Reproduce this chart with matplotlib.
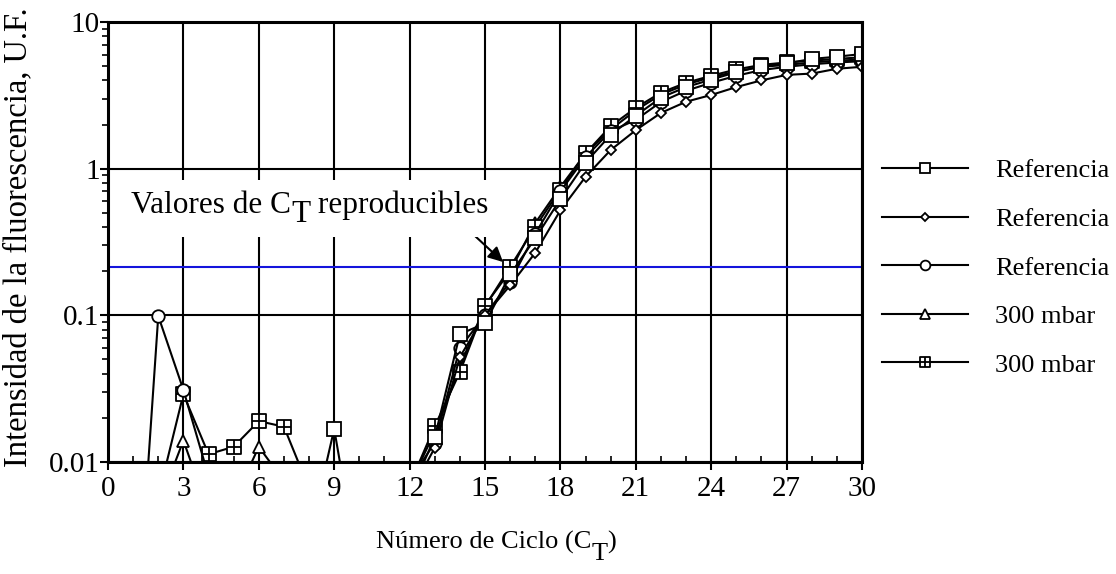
import numpy as np
import matplotlib
matplotlib.use("Agg")
import matplotlib.pyplot as plt
from matplotlib.path import Path
from matplotlib.patches import Rectangle
from matplotlib.ticker import FixedLocator, NullFormatter, LogLocator

plt.rcParams['font.family'] = ['Liberation Serif', 'DejaVu Serif']

# ---------------- data ----------------
cycles = list(range(0, 31))

ref_square = [0.003, 0.003, 0.003, 0.004, 0.003, 0.003, 0.004, 0.004, 0.003, 0.0168,
              0.0017, 0.003, 0.006, 0.0147, 0.0745, 0.088, 0.19, 0.335, 0.62, 1.1,
              1.7, 2.3, 3.05, 3.6, 4.05, 4.55, 5.0, 5.22, 5.6, 5.8, 6.05]
ref_diamond = [0.002, 0.002, 0.002, 0.002, 0.002, 0.002, 0.002, 0.002, 0.002, 0.002,
               0.002, 0.003, 0.006, 0.0125, 0.052, 0.1, 0.16, 0.267, 0.52, 0.88,
               1.34, 1.83, 2.4, 2.86, 3.18, 3.6, 4.0, 4.36, 4.45, 4.8, 4.95]
ref_circle = [0.0003, 0.0003, 0.099, 0.031, 0.008, 0.003, 0.003, 0.003, 0.003, 0.003,
              0.003, 0.003, 0.0075, 0.0135, 0.06, 0.1, 0.17, 0.36, 0.70, 1.2,
              1.8, 2.15, 2.85, 3.4, 3.85, 4.3, 4.7, 4.95, 5.15, 5.3, 5.4]
mbar_triangle = [0.002, 0.002, 0.005, 0.014, 0.0046, 0.0054, 0.0127, 0.0074, 0.003, 0.003,
                 0.003, 0.003, 0.007, 0.016, 0.044, 0.117, 0.20, 0.426, 0.75, 1.27,
                 1.85, 2.5, 3.2, 3.75, 4.2, 4.6, 4.95, 5.1, 5.3, 5.45, 5.55]
mbar_boxcross = [0.002, 0.002, 0.0058, 0.029, 0.0113, 0.0127, 0.019, 0.0174, 0.0066, 0.003,
                 0.003, 0.003, 0.007, 0.0175, 0.041, 0.115, 0.214, 0.40, 0.72, 1.27,
                 1.95, 2.6, 3.3, 3.85, 4.3, 4.75, 5.1, 5.3, 5.45, 5.6, 5.75]

labels = ["Referencia", "Referencia", "Referencia", "300 mbar", "300 mbar"]
threshold = 0.215
x_ticks = list(range(0, 31, 3))
y_ticks = [0.01, 0.1, 1, 10]
y_ticklabels = ["0.01", "0.1", "1", "10"]

# ---------------- figure ----------------
W, H = 1116, 574
fig = plt.figure(figsize=(W / 100, H / 100), dpi=100)
ax = fig.add_axes([108 / W, 1 - 462 / H, (862 - 108) / W, (462 - 22) / H])

boxcross = Path([(-1, -1), (1, -1), (1, 1), (-1, 1), (-1, -1),
                 (0, -1), (0, 1), (-1, 0), (1, 0)],
                [Path.MOVETO, Path.LINETO, Path.LINETO, Path.LINETO, Path.CLOSEPOLY,
                 Path.MOVETO, Path.LINETO, Path.MOVETO, Path.LINETO])

common = dict(color='black', lw=1.5, mfc='white', mec='black', mew=1.3)
series = [
    (mbar_triangle, '^', 9.0, labels[3], 3),
    (mbar_boxcross, boxcross, 9.5, labels[4], 4),
    (ref_circle, 'o', 9.0, labels[2], 5),
    (ref_diamond, 'D', 5.5, labels[1], 6),
    (ref_square, 's', 9.5, labels[0], 7),
]
handles = {}
for vals, mk, ms, lab, z in series:
    h, = ax.plot(cycles, vals, marker=mk, ms=ms, label=lab, zorder=z, **common)
    handles[z] = h

ax.axhline(threshold, color='#1414dc', lw=1.5, zorder=2)

ax.set_yscale('log')
ax.set_xlim(0, 30)
ax.set_ylim(0.01, 10)

ax.set_xticks(x_ticks)
ax.set_xticklabels([str(t) for t in x_ticks])
ax.xaxis.set_minor_locator(FixedLocator(list(range(0, 31))))
ax.set_yticks(y_ticks)
ax.set_yticklabels(y_ticklabels)
ax.yaxis.set_minor_locator(LogLocator(base=10, subs=np.arange(2, 10)))
ax.yaxis.set_minor_formatter(NullFormatter())

ax.tick_params(axis='both', which='major', labelsize=21, width=1.5, color='black')
ax.tick_params(axis='x', which='major', direction='out', length=6, pad=4)
ax.tick_params(axis='x', which='minor', direction='in', length=4, width=1.2)
ax.tick_params(axis='y', which='major', direction='out', length=5.5, pad=0.5)
ax.tick_params(axis='y', which='minor', direction='out', length=4, width=1.2)

ax.grid(True, which='major', color='black', lw=1.5, zorder=1)
ax.set_axisbelow(True)
for sp in ax.spines.values():
    sp.set_linewidth(2.2)
    sp.set_zorder(10)

ax.set_ylabel("Intensidad de la fluorescencia, U.F.", fontsize=23.5)
ax.yaxis.set_label_coords((33 - 108) / 754, (462 - 237) / 440)

# legend
order = [7, 6, 5, 3, 4]
leg = ax.legend([handles[k] for k in order], [handles[k].get_label() for k in order],
                loc='upper left', bbox_to_anchor=(882 / W, 1 - 159 / H),
                bbox_transform=fig.transFigure, frameon=False, fontsize=19,
                handlelength=3.26, handletextpad=1.02, labelspacing=0.95,
                borderpad=0, borderaxespad=0, markerscale=0.78)

# ---------------- rich texts (same-size lowered subscript) ----------------
fig.canvas.draw()
renderer = fig.canvas.get_renderer()


def text_width(s, fs):
    t = fig.text(0, 0, s + "I", fontsize=fs)
    w1 = t.get_window_extent(renderer).width
    t.set_text("I")
    w2 = t.get_window_extent(renderer).width
    t.remove()
    return w1 - w2


def rich(x_px, y_px, pieces, fs, center=False, bg=None):
    total = text_width("".join(p for p, _ in pieces), fs)
    x0 = x_px - total / 2 if center else x_px
    prefix = ""
    for s, dy in pieces:
        off = text_width(prefix, fs) if prefix else 0.0
        fig.text((x0 + off) / W, 1 - (y_px + dy) / H, s, fontsize=fs,
                 ha='left', va='baseline', zorder=20)
        prefix += s
    if bg is not None:
        top, bot = bg
        r = Rectangle(((x0 - 6) / W, 1 - (y_px + bot) / H), (total + 12) / W,
                      (top + bot) / H, transform=fig.transFigure,
                      facecolor='white', edgecolor='none', zorder=15)
        fig.add_artist(r)


rich(496, 549, [("Número de Ciclo (C", 0), ("T", 11), (")", 0)], 19, center=True)
rich(131, 213, [("Valores de C", 0), ("T", 9), (" reproducibles", 0)], 22.5, bg=(33, 24))

ax.annotate("", xy=(15.72, 0.231), xytext=(14.0, 0.433),
            arrowprops=dict(arrowstyle='-|>', color='black', lw=1.5,
                            mutation_scale=22, shrinkA=0, shrinkB=0), zorder=12)

fig.savefig("out.png", dpi=100)
